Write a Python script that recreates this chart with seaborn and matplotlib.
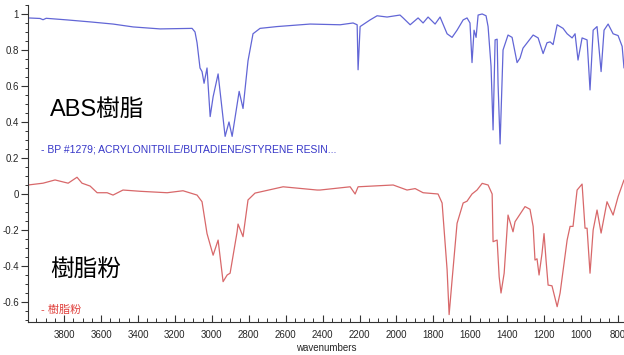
import numpy as np
import pandas as pd
import matplotlib
matplotlib.use('Agg')
import matplotlib.pyplot as plt
from matplotlib.ticker import MultipleLocator, FuncFormatter
import seaborn as sns

# ABS resin reference spectrum (wavenumber, value)
abs_wn = [3995, 3930, 3914, 3897, 3784, 3659, 3535, 3426, 3280, 3107, 3091, 3080,
          3064, 3053, 3042, 3026, 3009, 2993, 2966, 2928, 2907, 2890, 2852, 2831,
          2804, 2777, 2739, 2647, 2468, 2305, 2235, 2213, 2208, 2197, 2143, 2105,
          2051, 1981, 1964, 1926, 1883, 1856, 1829, 1791, 1764, 1726, 1699, 1672,
          1639, 1618, 1602, 1591, 1580, 1569, 1558, 1536, 1515, 1504, 1488, 1477,
          1466, 1455, 1450, 1439, 1423, 1396, 1374, 1347, 1331, 1315, 1260, 1233,
          1206, 1185, 1168, 1152, 1130, 1098, 1076, 1049, 1033, 1017, 995, 968,
          952, 935, 914, 892, 876, 854, 827, 800, 778, 768]
abs_val = [0.978, 0.975, 0.968, 0.976, 0.967, 0.956, 0.944, 0.928, 0.917, 0.92, 0.90, 0.84,
           0.70, 0.68, 0.615, 0.70, 0.43, 0.54, 0.667, 0.32, 0.40, 0.32, 0.57, 0.475,
           0.74, 0.89, 0.92, 0.93, 0.944, 0.94, 0.95, 0.94, 0.69, 0.93, 0.967, 0.99,
           0.983, 0.994, 0.978, 0.94, 0.978, 0.95, 0.983, 0.944, 0.983, 0.89, 0.87, 0.91,
           0.967, 0.978, 0.95, 0.73, 0.91, 0.87, 0.994, 1.0, 0.99, 0.93, 0.71, 0.356,
           0.856, 0.86, 0.61, 0.278, 0.80, 0.883, 0.87, 0.73, 0.755, 0.81, 0.883, 0.867,
           0.78, 0.84, 0.845, 0.83, 0.94, 0.92, 0.89, 0.867, 0.89, 0.744, 0.867, 0.856,
           0.578, 0.91, 0.93, 0.68, 0.91, 0.944, 0.89, 0.88, 0.82, 0.70]

# resin powder sample spectrum
powder_wn = [3995, 3914, 3849, 3778, 3730, 3703, 3659, 3621, 3567, 3535, 3481, 3388,
             3242, 3156, 3080, 3053, 3026, 2993, 2966, 2939, 2917, 2901, 2863, 2858,
             2831, 2804, 2766, 2614, 2430, 2414, 2251, 2224, 2208, 2018, 1943, 1899,
             1856, 1775, 1753, 1726, 1715, 1699, 1672, 1639, 1618, 1591, 1564, 1536,
             1504, 1482, 1477, 1455, 1444, 1434, 1417, 1396, 1369, 1358, 1304, 1277,
             1260, 1250, 1239, 1228, 1212, 1201, 1190, 1179, 1158, 1130, 1114, 1076,
             1060, 1044, 1022, 995, 979, 968, 952, 935, 914, 892, 860, 827, 800, 768]
powder_val = [0.05, 0.06, 0.078, 0.06, 0.093, 0.06, 0.044, 0.007, 0.007, -0.006, 0.022, 0.015,
              0.007, 0.018, -0.006, -0.043, -0.22, -0.34, -0.256, -0.487, -0.45, -0.44, -0.21, -0.167,
              -0.237, -0.033, 0.005, 0.04, 0.022, 0.022, 0.04, 0.0, 0.04, 0.05, 0.022, 0.03,
              0.007, 0.0, -0.05, -0.42, -0.67, -0.478, -0.163, -0.05, -0.04, 0.0, 0.022, 0.059,
              0.05, 0.0, -0.265, -0.256, -0.46, -0.55, -0.44, -0.117, -0.21, -0.154, -0.07, -0.085,
              -0.18, -0.367, -0.36, -0.45, -0.33, -0.22, -0.37, -0.506, -0.51, -0.626, -0.55, -0.256,
              -0.18, -0.18, 0.022, 0.055, -0.19, -0.19, -0.44, -0.2, -0.089, -0.217, -0.043, -0.117, -0.015, 0.078]

x_ticks = [3800, 3600, 3400, 3200, 3000, 2800, 2600, 2400, 2200, 2000, 1800, 1600, 1400, 1200, 1000, 800]
y_ticks = [1, 0.8, 0.6, 0.4, 0.2, 0, -0.2, -0.4, -0.6]

sns.set_style('white')
plt.rcParams['font.family'] = ['Liberation Sans', 'Noto Sans CJK JP', 'DejaVu Sans']

fig = plt.figure(figsize=(6.24, 3.55), dpi=100)
ax = fig.add_axes([0.045, 0.093, 0.955, 0.893])

df_abs = pd.DataFrame({'wn': abs_wn, 'val': abs_val})
df_pow = pd.DataFrame({'wn': powder_wn, 'val': powder_val})
sns.lineplot(data=df_abs, x='wn', y='val', ax=ax, color='#6266d6', lw=0.9,
             sort=False, estimator=None)
sns.lineplot(data=df_pow, x='wn', y='val', ax=ax, color='#d8686a', lw=0.9,
             sort=False, estimator=None)

ax.set_xlim(3995, 768)
ax.set_ylim(-0.711, 1.05)
ax.set_xticks(x_ticks)
ax.set_yticks(y_ticks)
ax.xaxis.set_minor_locator(MultipleLocator(50))
ax.yaxis.set_minor_locator(MultipleLocator(0.05))
ax.yaxis.set_major_formatter(FuncFormatter(lambda v, p: f'{v:g}'))
ax.tick_params(axis='x', which='major', direction='in', length=5, width=0.8,
               labelsize=7, pad=6, color='#333333')
ax.tick_params(axis='x', which='minor', direction='in', length=3, width=0.7, color='#333333')
ax.tick_params(axis='y', which='major', direction='out', length=5, width=0.8,
               labelsize=7, pad=1.5, color='#333333')
ax.tick_params(axis='y', which='minor', direction='out', length=2.5, width=0.7, color='#333333')
ax.tick_params(bottom=True, left=True, which='both')

for s in ['top', 'right']:
    ax.spines[s].set_visible(False)
for s in ['left', 'bottom']:
    ax.spines[s].set_color('#333333')
    ax.spines[s].set_linewidth(0.8)

ax.set_xlabel('wavenumbers', fontsize=7, labelpad=2)
ax.set_ylabel('')

fig.text(50 / 624, 1 - 110 / 355, 'ABS樹脂', fontsize=17, va='center', ha='left', color='black')
fig.text(50 / 624, 1 - 270 / 355, '樹脂粉', fontsize=17, va='center', ha='left', color='black')
fig.text(41 / 624, 1 - 149 / 355, '- BP #1279; ACRYLONITRILE/BUTADIENE/STYRENE RESIN...',
         fontsize=7.5, va='center', ha='left', color='#3636c8')
fig.text(41 / 624, 1 - 310 / 355, '- 樹脂粉', fontsize=8, va='center', ha='left', color='#e0403c')

fig.savefig('out.png', dpi=100)
